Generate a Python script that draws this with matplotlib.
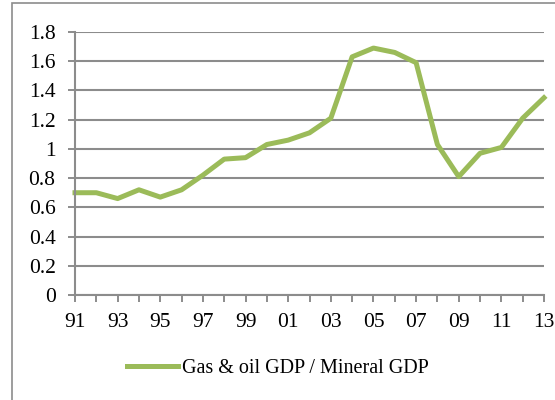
import matplotlib.pyplot as plt
from matplotlib.patches import Rectangle

years = list(range(1991, 2014))
ratio = [0.70, 0.70, 0.66, 0.72, 0.67, 0.72, 0.82, 0.93, 0.94, 1.03, 1.06, 1.11,
         1.21, 1.63, 1.69, 1.66, 1.59, 1.03, 0.81, 0.97, 1.01, 1.21, 1.35]
tick_years = years[::2]
y_ticks = [0, 0.2, 0.4, 0.6, 0.8, 1, 1.2, 1.4, 1.6, 1.8]
y_labels = ['0', '0.2', '0.4', '0.6', '0.8', '1', '1.2', '1.4', '1.6', '1.8']

plt.rcParams['font.family'] = ['Liberation Serif', 'DejaVu Serif']

fig = plt.figure(figsize=(5.55, 4.0), dpi=100)

# outer chart border (cropped on the right and bottom)
fig.patches.append(Rectangle((12 / 555, -0.1), 1.2, 1 - 3 / 400 + 0.1,
                             transform=fig.transFigure, fill=False,
                             edgecolor='#8c8c8c', linewidth=1.2))

ax = fig.add_axes([75 / 555, 1 - 295 / 400, (544 - 75) / 555, (295 - 32) / 400])
line, = ax.plot(years, ratio, color='#9bbb59', linewidth=3.6,
                label='Gas & oil GDP / Mineral GDP')
line.set_clip_on(False)

ax.set_xlim(1991, 2013)
ax.set_ylim(0, 1.8)
ax.set_yticks(y_ticks)
ax.set_yticklabels(y_labels)
ax.set_xticks(years)
ax.set_xticklabels([('%02d' % (y % 100)) if y in tick_years else '' for y in years])
ax.tick_params(axis='both', labelsize=15.5, color='#8c8c8c', length=5, width=1.4,
               direction='out')
ax.tick_params(axis='x', pad=8)
ax.tick_params(axis='y', pad=9)

ax.grid(axis='y', color='#8c8c8c', linewidth=1.5)
ax.set_axisbelow(True)
for side in ['top', 'right']:
    ax.spines[side].set_visible(False)
for side in ['left', 'bottom']:
    ax.spines[side].set_color('#8c8c8c')
    ax.spines[side].set_linewidth(1.5)

fig.legend(handles=[line], loc='center', bbox_to_anchor=(278 / 555, 1 - 368 / 400),
           frameon=False, fontsize=14.5, handlelength=2.5, handletextpad=0.2)

fig.savefig('out.png', dpi=100)
